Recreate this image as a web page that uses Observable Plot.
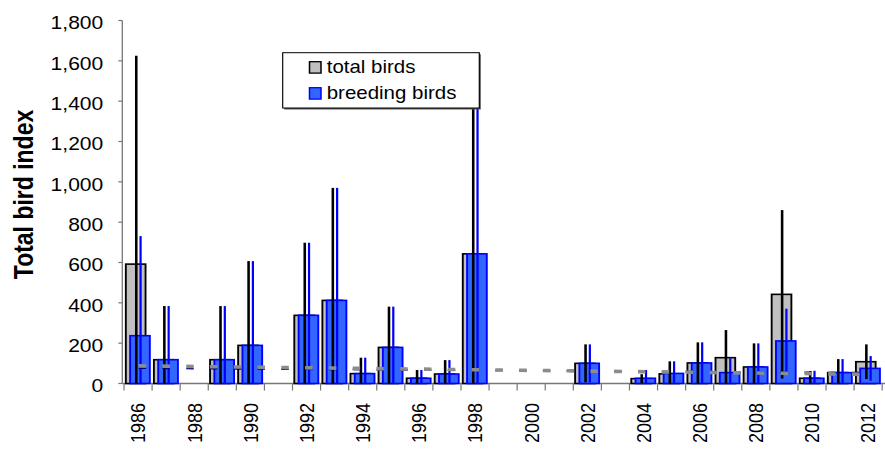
<!DOCTYPE html>
<html>
<head>
<meta charset="utf-8">
<script src="https://cdn.jsdelivr.net/npm/d3@7"></script>
<script src="https://cdn.jsdelivr.net/npm/@observablehq/plot@0.6"></script>
<style>
  html, body { margin: 0; padding: 0; background: #fff; }
  #chart { width: 885px; height: 453px; overflow: hidden; }
</style>
</head>
<body>
<div id="chart"></div>
<script>
// Survey years
const years = [1986, 1987, 1988, 1989, 1990, 1991, 1992, 1993, 1994, 1995, 1996, 1997, 1998, 1999,
               2000, 2001, 2002, 2003, 2004, 2005, 2006, 2007, 2008, 2009, 2010, 2011, 2012];

// Total birds: index value and error half-width
const totalBirds = [592, 118, 0, 118, 189, 0, 338, 412, 49, 179, 26, 47, 643, 0,
                    0, 0, 100, 0, 24, 48, 102, 128, 82, 442, 26, 54, 108];
const totalError = [1033, 266, 0, 266, 418, 0, 360, 558, 79, 202, 41, 69, 807, 0,
                    0, 0, 94, 0, 22, 62, 102, 137, 117, 418, 36, 67, 86];

// Breeding birds: index value and error half-width
const breedingBirds = [237, 118, 0, 118, 189, 0, 338, 412, 49, 179, 26, 47, 643, 0,
                       0, 0, 100, 0, 26, 50, 102, 54, 82, 211, 26, 54, 75];
const breedingError = [494, 266, 0, 266, 418, 0, 360, 558, 79, 202, 41, 69, 807, 0,
                       0, 0, 94, 0, 41, 60, 102, 71, 117, 160, 37, 67, 61];

// Linear trend end points (first and last year)
const trendYears = [1986, 2012];
const totalTrend = [90, 48];
const breedingTrend = [78, 56];

// Axis ticks
const yTicks = [0, 200, 400, 600, 800, 1000, 1200, 1400, 1600, 1800];
const xTickLabels = years.filter(y => y % 2 === 0);

const legendItems = ["total birds", "breeding birds"];

// Table built from the arrays above
const rows = years.map((year, i) => ({
  year,
  total: totalBirds[i],
  totalLo: Math.max(0, totalBirds[i] - totalError[i]),
  totalHi: totalBirds[i] + totalError[i],
  breeding: breedingBirds[i],
  breedingLo: Math.max(0, breedingBirds[i] - breedingError[i]),
  breedingHi: breedingBirds[i] + breedingError[i]
}));
const trendRows = trendYears.map((year, i) => ({year, total: totalTrend[i], breeding: breedingTrend[i]}));

// The drawing is laid out narrower and then stretched horizontally
const S = 1.17;
const W = 885 / S;
const frameLeft = 122.3;          // on-screen px
const bandPx = (885 - frameLeft) / years.length;

const GRAY = "#c0c0c0", BLUE = "#3366ff", BLUE_EDGE = "#0000ff", AXIS = "#777";

// Axis lines and tick marks at band edges
function axisLines(index, scales, values, dims) {
  const {x, y} = scales;
  const g = d3.create("svg:g").attr("fill", "none").attr("stroke", AXIS);
  const x0 = dims.marginLeft, x1 = dims.width - dims.marginRight;
  const y0 = y(0);
  g.append("line").attr("x1", x0).attr("x2", x0).attr("y1", y(1800)).attr("y2", y0)
    .attr("stroke-width", 1.3 / S);
  g.append("line").attr("x1", x0).attr("x2", x1).attr("y1", y0).attr("y2", y0)
    .attr("stroke-width", 1.4);
  for (const v of yTicks) {
    g.append("line").attr("x1", x0 - 4 / S).attr("x2", x0).attr("y1", y(v)).attr("y2", y(v))
      .attr("stroke-width", 1.2);
  }
  const edges = years.map(d => x(d)).concat([x(years[years.length - 1]) + x.bandwidth()]);
  for (const e of edges) {
    g.append("line").attr("x1", e).attr("x2", e).attr("y1", y0).attr("y2", y0 + 7)
      .attr("stroke-width", 1.2 / S);
  }
  return g.node();
}

// Boxed legend
function legend() {
  const g = d3.create("svg:g").attr("text-anchor", "start");
  const bx = 282.7 / S, by = 52.7, bw = 196.6 / S, bh = 55.3;
  g.append("rect").attr("x", bx + 1.5 / S).attr("y", by + 1.5).attr("width", bw).attr("height", bh)
    .attr("fill", "#555");
  g.append("rect").attr("x", bx).attr("y", by).attr("width", bw).attr("height", bh)
    .attr("fill", "#fff").attr("stroke", "#000").attr("stroke-width", 1);
  const fills = [GRAY, BLUE], edges = ["#000", BLUE_EDGE];
  legendItems.forEach((label, i) => {
    const top = 61.7 + i * 26;
    g.append("rect").attr("x", 309.5 / S).attr("y", top).attr("width", 11.5 / S).attr("height", 11.4)
      .attr("fill", fills[i]).attr("stroke", edges[i]).attr("stroke-width", 1.3);
    g.append("text").attr("x", 326.7 / S).attr("y", top + 11.6)
      .attr("text-anchor", "start").attr("font-size", 17.5).attr("fill", "#000").text(label);
  });
  return g.node();
}

const chart = Plot.plot({
  width: W,
  height: 453,
  marginLeft: frameLeft / S,
  marginRight: 0,
  marginTop: 20.5,
  marginBottom: 69.5,
  style: {fontFamily: "'Liberation Sans', Arial, sans-serif", fontSize: "18px", color: "#000", background: "#fff"},
  x: {type: "band", domain: years, paddingInner: 0, paddingOuter: 0},
  y: {domain: [0, 1800]},
  marks: [
    axisLines,
    Plot.barY(rows.filter(d => d.total > 0), {
      x: "year", y: "total", fill: GRAY, stroke: "#000", strokeWidth: 1.6,
      insetLeft: 1.8 / S, insetRight: 6.55 / S
    }),
    Plot.barY(rows.filter(d => d.breeding > 0), {
      x: "year", y: "breeding", fill: BLUE, stroke: BLUE_EDGE, strokeWidth: 1.6,
      insetLeft: 6.1 / S, insetRight: 2.25 / S
    }),
    Plot.ruleX(rows.filter(d => d.total > 0), {
      x: "year", y1: "totalLo", y2: "totalHi", stroke: "#000", strokeWidth: 2.2,
      dx: (11.75 - bandPx / 2) / S
    }),
    Plot.ruleX(rows.filter(d => d.breeding > 0), {
      x: "year", y1: "breedingLo", y2: "breedingHi", stroke: BLUE_EDGE, strokeWidth: 1.9,
      dx: (16.05 - bandPx / 2) / S
    }),
    Plot.lineY(trendRows, {
      x: "year", y: "breeding", stroke: "#000080", strokeWidth: 1.6,
      strokeDasharray: `${7.5 / S},${16.28 / S}`, strokeLinecap: "butt"
    }),
    Plot.lineY(trendRows, {
      x: "year", y: "total", stroke: "#8c8c8c", strokeWidth: 3.6,
      strokeDasharray: `${7.5 / S},${16.28 / S}`, strokeLinecap: "butt"
    }),
    Plot.axisY({
      ticks: yTicks, tickFormat: d3.format(","), tickSize: 0,
      tickPadding: 19.6 / S, dy: 2.5, label: null, fontSize: 18
    }),
    Plot.axisX({
      ticks: xTickLabels, tickFormat: d => String(d), tickSize: 0, tickRotate: -90, tickPadding: 19,
      label: null, fontSize: 18
    }),
    Plot.text(["Total bird index"], {
      frameAnchor: "left", textAnchor: "middle", text: d => d, rotate: -90,
      dx: 24 / S - frameLeft / S, dy: -8, fontSize: 23, fontWeight: "bold", fill: "#000"
    }),
    legend
  ]
});

// Stretch the drawing horizontally to the full page width
chart.setAttribute("preserveAspectRatio", "none");
chart.setAttribute("width", 885);
chart.setAttribute("height", 453);
chart.style.width = "885px";
chart.style.height = "453px";
chart.style.maxWidth = "none";
document.getElementById("chart").appendChild(chart);
</script>
</body>
</html>
